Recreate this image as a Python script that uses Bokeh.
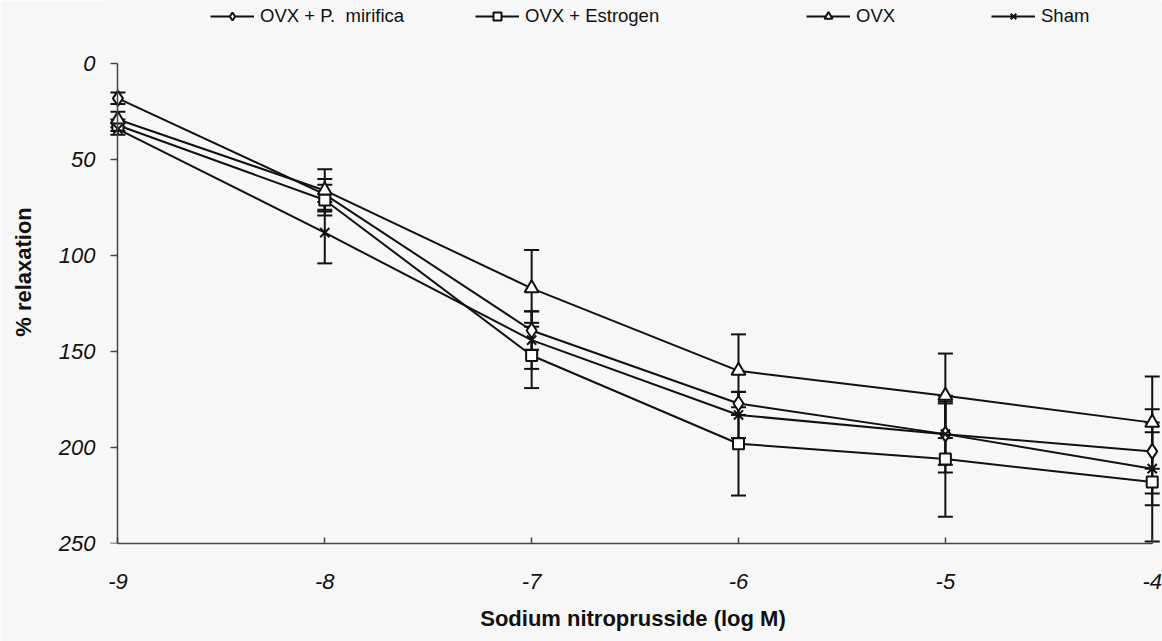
from bokeh.plotting import figure
from bokeh.models import (Range1d, Whisker, ColumnDataSource, Legend, LegendItem,
                          FixedTicker, TeeHead, LinearAxis)
from bokeh.embed import file_html
from bokeh.resources import INLINE

# ---- data ----
log_conc = [-9, -8, -7, -6, -5, -4]

mirifica = [18, 68, 139, 177, 193, 202]
mirifica_err = [3, 8, 10, 6, 20, 22]

estrogen = [32, 71, 152, 198, 206, 218]
estrogen_err = [3, 8, 17, 27, 30, 31]

ovx = [29, 66, 117, 160, 173, 187]
ovx_err = [4, 11, 20, 19, 22, 24]

sham = [34, 88, 144, 183, 193, 211]
sham_err = [3, 16, 15, 12, 16, 19]

series_names = ["OVX + P.  mirifica", "OVX + Estrogen", "OVX", "Sham"]
x_ticks = [-9, -8, -7, -6, -5, -4]
x_tick_labels = ["-9", "-8", "-7", "-6", "-5", "-4"]
y_ticks = [0, 50, 100, 150, 200, 250]

BG = "#f7f7f7"
INK = "#111111"
AXC = "#444444"
FONT = "Liberation Sans"

p = figure(width=1162, height=641,
           x_range=Range1d(-9.06, -3.96), y_range=Range1d(250, -33),
           output_backend="svg", toolbar_location=None,
           min_border_left=105, min_border_right=2, min_border_top=0, min_border_bottom=98)
p.background_fill_color = BG
p.border_fill_color = BG
p.outline_line_color = None
p.xgrid.visible = False
p.ygrid.visible = False

# x axis
p.xaxis.ticker = FixedTicker(ticks=x_ticks)
p.xaxis.major_label_overrides = {t: s for t, s in zip(x_ticks, x_tick_labels)}
p.xaxis.bounds = (-9, -4)

# default y axis: only tick labels and title (frame starts a bit left of -9)
p.yaxis.ticker = FixedTicker(ticks=y_ticks)
p.yaxis.axis_line_color = None
p.yaxis.major_tick_line_color = None
p.yaxis.major_tick_out = 0
p.yaxis.major_tick_in = 0
p.yaxis.major_label_standoff = 10
p.yaxis.axis_label = "% relaxation"
p.yaxis.axis_label_standoff = 20

for ax in (p.xaxis[0], p.yaxis[0]):
    ax.axis_line_width = 1.5
    ax.minor_tick_line_color = None
    ax.major_label_text_font = FONT
    ax.major_label_text_font_style = "italic"
    ax.major_label_text_font_size = "22px"
    ax.major_label_text_color = INK
    ax.axis_label_text_font = FONT
    ax.axis_label_text_font_style = "bold"
    ax.axis_label_text_font_size = "22px"
    ax.axis_label_text_color = INK

p.xaxis.axis_line_color = AXC
p.xaxis.major_tick_line_color = AXC
p.xaxis.major_tick_line_width = 1.5
p.xaxis.major_tick_out = 0
p.xaxis.major_tick_in = 6
p.xaxis.major_label_standoff = 30
p.xaxis.axis_label = "Sodium nitroprusside (log M)"
p.xaxis.axis_label_standoff = 14

# y axis line + ticks drawn exactly at x = -9 (no labels of its own)
yline = LinearAxis(ticker=FixedTicker(ticks=y_ticks), fixed_location=-9,
                   bounds=(0, 250), axis_line_color=AXC, axis_line_width=1.5,
                   major_tick_line_color=AXC, major_tick_line_width=1.5,
                   major_tick_in=7, major_tick_out=0, minor_tick_line_color=None,
                   major_label_overrides={t: "" for t in y_ticks},
                   major_label_standoff=0)
p.add_layout(yline, "right")

specs = [
    (mirifica, mirifica_err, "diamond", 15),
    (estrogen, estrogen_err, "square", 11),
    (ovx, ovx_err, "triangle", 14),
    (sham, sham_err, "x", 13),
]

legend_pos = [(105, 516), (370, 516), (701, 516), (886, 516)]

for (vals, errs, marker, size), name, pos in zip(specs, series_names, legend_pos):
    src = ColumnDataSource(dict(
        x=log_conc, y=vals,
        upper=[v - e for v, e in zip(vals, errs)],
        lower=[v + e for v, e in zip(vals, errs)],
    ))
    w = Whisker(source=src, base="x", upper="upper", lower="lower",
                line_color=INK, line_width=2,
                upper_head=TeeHead(size=15, line_color=INK, line_width=2),
                lower_head=TeeHead(size=15, line_color=INK, line_width=2))
    p.add_layout(w)
    lr = p.line("x", "y", source=src, line_color=INK, line_width=2)
    sr = p.scatter("x", "y", source=src, marker=marker, size=size,
                   line_color=INK, line_width=2, fill_color="white")
    leg = Legend(items=[LegendItem(label=name, renderers=[lr, sr])],
                 location=pos, orientation="horizontal",
                 background_fill_alpha=0, border_line_color=None,
                 padding=0, margin=0, glyph_width=44, glyph_height=20,
                 label_height=20, label_standoff=6,
                 label_text_font=FONT, label_text_font_size="18.5px",
                 label_text_color=INK)
    p.add_layout(leg)

open("out.html", "w").write(file_html(p, INLINE))
